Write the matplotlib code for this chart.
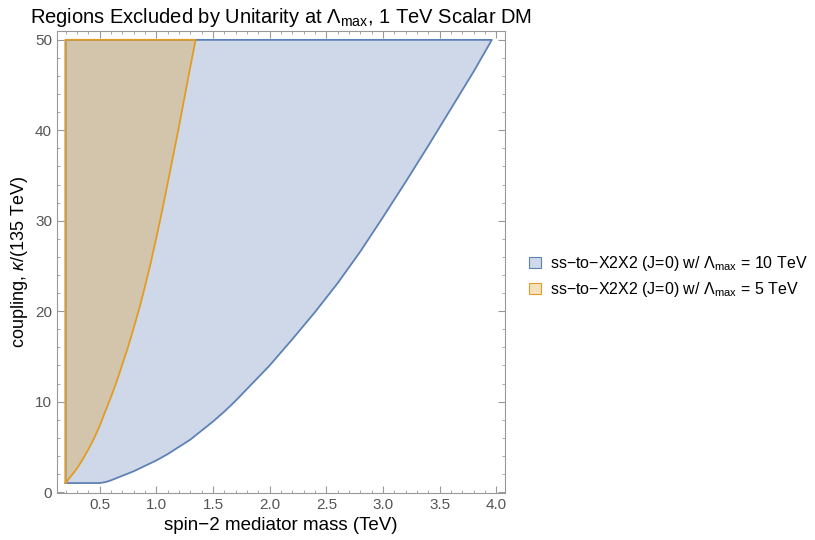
import matplotlib
matplotlib.use("Agg")
import matplotlib.pyplot as plt
from matplotlib.patches import Patch
from matplotlib.ticker import MultipleLocator

plt.rcParams['font.family'] = ['Liberation Sans', 'DejaVu Sans']
plt.rcParams['mathtext.fontset'] = 'custom'
plt.rcParams['mathtext.rm'] = 'Liberation Sans'
plt.rcParams['mathtext.it'] = 'Liberation Sans:italic'

# mass range and coupling range of the scan
m_min = 0.2
k_min, k_max = 1.0, 50.0

# Lambda_max = 10 TeV boundary (right edge of the excluded region)
blue_x = [0.5, 0.55, 0.6, 0.7, 0.8, 0.9, 1.0, 1.1, 1.2, 1.3, 1.4, 1.5, 1.6, 1.7, 1.8,
          2.0, 2.2, 2.4, 2.6, 2.8, 3.0, 3.2, 3.4, 3.6, 3.8, 3.96]
blue_y = [1.0, 1.1, 1.3, 1.8, 2.3, 2.9, 3.5, 4.2, 5.0, 5.8, 6.8, 7.8, 8.9, 10.1, 11.4,
          14.0, 16.9, 19.9, 23.1, 26.6, 30.4, 34.3, 38.3, 42.4, 46.5, 50.0]

# Lambda_max = 5 TeV boundary
orange_x = [0.2, 0.25, 0.3, 0.35, 0.4, 0.45, 0.5, 0.55, 0.6, 0.65, 0.7, 0.75, 0.8,
            0.85, 0.9, 0.95, 1.0, 1.05, 1.1, 1.2, 1.3, 1.347]
orange_y = [1.0, 1.8, 2.6, 3.6, 4.7, 5.9, 7.3, 8.9, 10.5, 12.2, 14.1, 16.0, 18.1,
            20.3, 22.7, 25.3, 28.1, 31.0, 34.1, 40.4, 47.0, 50.0]

labels = [r'ss$-$to$-$X2X2 (J=0) w/ $\Lambda_{\rm max}$ = 10 TeV',
          r'ss$-$to$-$X2X2 (J=0) w/ $\Lambda_{\rm max}$ = 5 TeV']

blue_line = '#5e81b5'
orange_line = '#e19c24'

fig = plt.figure(figsize=(8.15, 5.4), dpi=100)
ax = fig.add_axes([0.0699, 0.087, 0.5497, 0.8556])

bx = [m_min] + blue_x + [m_min, m_min]
by = [k_min] + blue_y + [k_max, k_min]
ax.fill(bx, by, facecolor=blue_line, alpha=0.3, edgecolor='none')
ax.plot(bx, by, color=blue_line, lw=1.3)

ox = orange_x + [m_min, m_min]
oy = orange_y + [k_max, k_min]
ax.fill(ox, oy, facecolor=orange_line, alpha=0.3, edgecolor='none')
ax.plot(ox, oy, color=orange_line, lw=1.3)

ax.set_xlim(0.124, 4.076)
ax.set_ylim(-0.1, 50.98)
ax.xaxis.set_major_locator(MultipleLocator(0.5))
ax.xaxis.set_minor_locator(MultipleLocator(0.1))
ax.yaxis.set_major_locator(MultipleLocator(10))
ax.yaxis.set_minor_locator(MultipleLocator(2))
ax.tick_params(which='both', direction='in', top=True, right=True,
               color='#999999', labelcolor='#555555', labelsize=11)
ax.tick_params(which='major', length=5)
ax.tick_params(which='minor', length=2.5)
for s in ax.spines.values():
    s.set_color('#999999')

ax.set_title(r'Regions Excluded by Unitarity at $\Lambda_{\rm max}$, 1 TeV Scalar DM',
             fontsize=14.5, pad=6)
ax.set_xlabel('spin\u22122 mediator mass (TeV)', fontsize=13.5)
ax.set_ylabel(r'coupling, $\kappa$/(135 TeV)', fontsize=13)

handles = [Patch(facecolor='#cfd9e9', edgecolor=blue_line, lw=0.8),
           Patch(facecolor='#f6e1bd', edgecolor=orange_line, lw=0.8)]
fig.legend(handles, labels, loc='center left', bbox_to_anchor=(0.632, 0.488),
           frameon=False, fontsize=11.5, handlelength=0.7, handleheight=0.7,
           handletextpad=0.6, labelspacing=0.45)

fig.savefig('out.png', dpi=100)
